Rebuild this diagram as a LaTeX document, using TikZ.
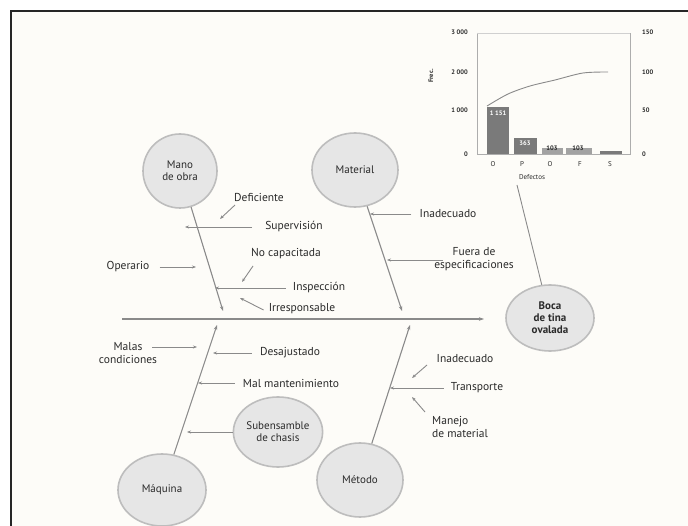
\documentclass[tikz,border=0pt]{standalone}
\usepackage{fontspec}
\setmainfont{PT Sans}
\usetikzlibrary{shapes.geometric,arrows.meta}
\definecolor{bgc}{HTML}{FDFCF8}
\definecolor{linec}{HTML}{8A8A8A}
\definecolor{ellf}{HTML}{E6E6E6}
\definecolor{elld}{HTML}{BDBDBD}
\definecolor{txt}{HTML}{2A2A2A}
\definecolor{barc}{HTML}{7A7A7A}
\tikzset{
  cause/.style={ellipse,draw=elld,fill=ellf,line width=1.6pt,text=txt,font=\fontsize{11}{12}\selectfont,align=center,inner sep=0pt},
  lbl/.style={text=txt,font=\fontsize{11.5}{12.5}\selectfont,inner sep=1pt},
  bone/.style={draw=linec,line width=1.1pt,-{Stealth[length=5pt,width=3.5pt]}},
  sub/.style={draw=linec,line width=0.9pt,-{Stealth[length=4pt,width=3pt]}},
  axl/.style={draw=linec!70,line width=0.8pt},
  tick/.style={text=txt,font=\fontsize{6.5}{7}\selectfont\bfseries,inner sep=0pt}
}
\begin{document}
\begin{tikzpicture}[x=1pt,y=-1pt]
\useasboundingbox (0,0) rectangle (688,526);
\fill[white] (0,0) rectangle (688,526);
\fill[bgc] (11,11) rectangle (688,526);
\draw[black!85,line width=2.4pt] (11,527) -- (11,11) -- (689,11);

% ---------- Pareto chart ----------
\draw[axl] (477,33) -- (477,154) -- (630,154) -- (630,33);
\draw[draw=linec!40,line width=0.6pt] (477,33) -- (630,33);
\foreach \y/\t in {32/3 000,72/2 000,110/1 000,154/0}{
  \node[tick,anchor=east] (l\y) at (468,\y) {\t};
}
\foreach \y/\t in {32/150,72/100,110/50,154/0}{
  \node[tick,anchor=west] (r\y) at (642,\y) {\t};
}
\node[tick,rotate=90] (ylab) at (431,76) {Frec.};
\fill[barc] (487,107) rectangle (509,154);
\fill[barc] (514,138) rectangle (537,154);
\fill[barc!70] (542,148) rectangle (563,154);
\fill[barc!70] (566,148) rectangle (592,154);
\fill[barc] (600,151) rectangle (622,154);
\node[tick,text=white] (b1) at (498,113) {1 151};
\node[tick,text=white] (b2) at (525,143) {363};
\node[tick] (b3) at (552,148) {103};
\node[tick] (b4) at (578,148) {103};
\foreach \x/\t [count=\i] in {493/O,522/P,550/O,580/F,610/S}{
  \node[tick,font=\fontsize{7}{8}\selectfont] (c\i) at (\x,164) {\t};
}
\node[tick,font=\fontsize{7}{8}\selectfont] (xlab) at (532,177) {Defectos};
\draw[linec,line width=0.9pt] plot[smooth] coordinates {(487,106) (508,94) (530,86) (555,80) (583,73) (608,72)};
\coordinate (chartpt) at (517,185);

% ---------- Fishbone ----------
\node[cause,minimum width=88pt,minimum height=66pt,font=\fontsize{11}{12}\selectfont\bfseries] (effect) at (550,318) {Boca\\de tina\\ovalada};
\draw[draw=linec,line width=0.9pt] (chartpt) -- (effect);

\coordinate (spS) at (122,319);
\coordinate (spE) at (484,319);
\draw[bone] (spS) -- (spE);

\node[cause,minimum width=74pt,minimum height=74pt] (mano) at (180,171) {Mano\\de obra};
\node[cause,minimum width=86pt,minimum height=74pt] (mat) at (355,170) {Material};
\node[cause,minimum width=88pt,minimum height=72pt] (maq) at (162,490) {Máquina};
\node[cause,minimum width=86pt,minimum height=74pt] (met) at (360,480) {Método};
\node[cause,minimum width=86pt,minimum height=70pt] (subch) at (278,432) {Subensamble\\de chasis};

\coordinate (manoE) at (223,311);
\coordinate (matE) at (402,311);
\coordinate (maqE) at (217,325);
\coordinate (metE) at (410,325);
\draw[bone] (mano) -- (manoE);
\draw[bone] (mat) -- (matE);
\draw[bone] (maq) -- (maqE);
\draw[bone] (met) -- (metE);

% Mano de obra
\node[lbl] (defi) at (259,198) {Deficiente};
\coordinate (defiE) at (220,219);
\draw[sub] (235,205) -- (defiE);
\node[lbl] (superv) at (294,227) {Supervisión};
\coordinate (supervE) at (185,227);
\draw[sub] (superv.west) ++(-12,0) -- (supervE);
\node[lbl] (nocap) at (286,254) {No capacitada};
\coordinate (nocapE) at (242,282);
\draw[sub] (253,266) -- (nocapE);
\node[lbl] (oper) at (128,267) {Operario};
\coordinate (operE) at (196,267);
\draw[sub] (oper.east) ++(9,0) -- (operE);
\node[lbl] (insp) at (319,288) {Inspección};
\coordinate (inspE) at (215,288);
\draw[sub] (insp.west) ++(-6,0) -- (inspE);
\node[lbl] (irres) at (302,309) {Irresponsable};
\coordinate (irresE) at (240,298);
\draw[sub] (irres.west) ++(-4,1) -- (irresE);

% Material
\node[lbl] (inad1) at (448,214) {Inadecuado};
\coordinate (inad1E) at (370,214);
\draw[sub] (inad1.west) ++(-7,0) -- (inad1E);
\node[lbl,align=center] (fuera) at (474,259) {Fuera de\\especificaciones};
\coordinate (fueraE) at (387,260);
\draw[sub] (443,260) -- (fueraE);

% Máquina
\node[lbl,align=center] (malas) at (128,353) {Malas\\condiciones};
\coordinate (malasE) at (197,347);
\draw[sub] (152,347) -- (malasE);
\node[lbl] (desaj) at (290,353) {Desajustado};
\coordinate (desajE) at (213,353);
\draw[sub] (desaj.west) ++(-7,0) -- (desajE);
\node[lbl] (malm) at (291,383) {Mal mantenimiento};
\coordinate (malmE) at (198,383);
\draw[sub] (malm.west) ++(-7,0) -- (malmE);
\coordinate (subchE) at (187,432);
\draw[sub] (subch) -- (subchE);

% Método
\node[lbl] (inad2) at (465,359) {Inadecuado};
\coordinate (inad2E) at (412,378);
\draw[sub] (427,365) -- (inad2E);
\node[lbl] (transp) at (477,388) {Transporte};
\coordinate (transpE) at (390,388);
\draw[sub] (transp.west) ++(-6,0) -- (transpE);
\node[lbl,align=left,anchor=west] (manejo) at (431,427) {Manejo\\de material};
\coordinate (manejoE) at (412,397);
\draw[sub] (425,412) -- (manejoE);
\end{tikzpicture}
\end{document}
